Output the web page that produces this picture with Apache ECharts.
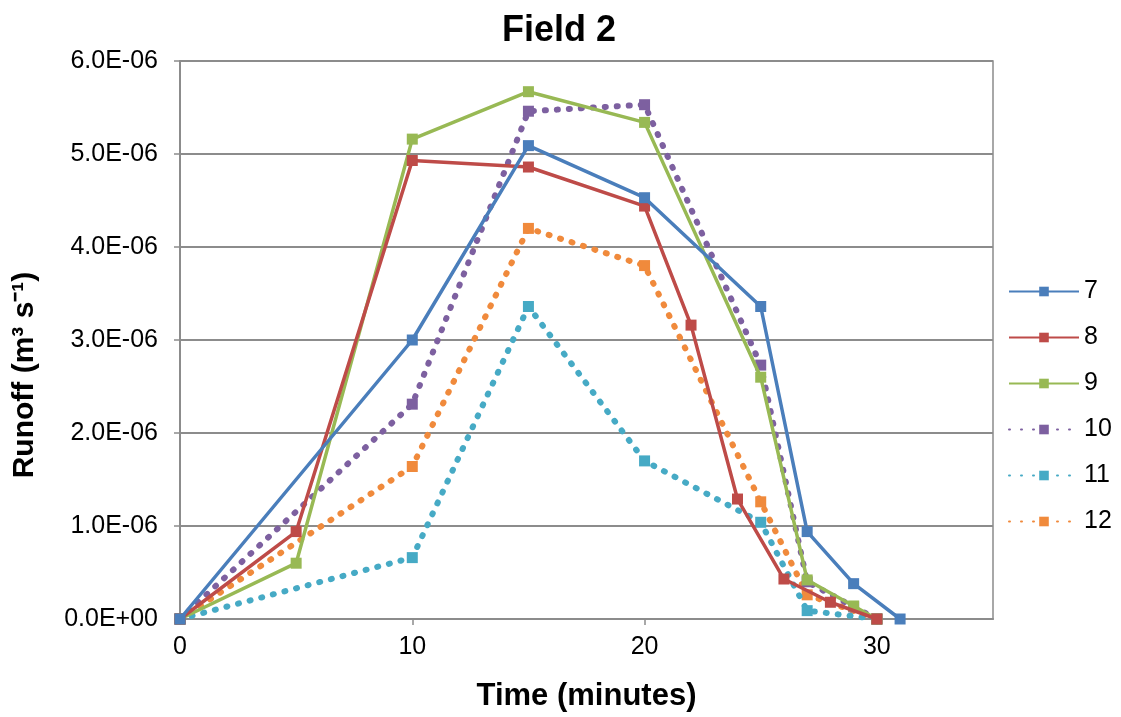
<!DOCTYPE html>
<html>
<head>
<meta charset="utf-8">
<script src="https://cdn.jsdelivr.net/npm/echarts@6/dist/echarts.min.js"></script>
<style>
html,body{margin:0;padding:0;background:#fff;}
#chart{width:1121px;height:717px;}
</style>
</head>
<body>
<div id="chart"></div>
<script>
// Data (time in minutes, runoff in 1E-06 m3/s)
var seriesNames = ['7', '8', '9', '10', '11', '12'];
var s7  = [[0,0],[10,3.00],[15,5.09],[20,4.53],[25,3.36],[27,0.94],[29,0.38],[31,0]];
var s8  = [[0,0],[5,0.94],[10,4.93],[15,4.86],[20,4.44],[22,3.16],[24,1.29],[26,0.43],[28,0.18],[30,0]];
var s9  = [[0,0],[5,0.60],[10,5.16],[15,5.67],[20,5.34],[25,2.60],[27,0.42],[29,0.14],[30,0]];
var s10 = [[0,0],[10,2.31],[15,5.46],[20,5.53],[25,2.73],[27,0.40],[29,0.13],[30,0]];
var s11 = [[0,0],[10,0.66],[15,3.36],[20,1.70],[25,1.04],[27,0.09],[30,0]];
var s12 = [[0,0],[10,1.64],[15,4.20],[20,3.80],[25,1.26],[27,0.26],[30,0]];
var allData = [s7, s8, s9, s10, s11, s12];
var colors = ['#4A7EBB', '#BE4B48', '#98B954', '#7D60A0', '#46AAC5', '#F08A3C'];
var dotted = [false, false, false, true, true, true];

function fmtE(v) {
  var s = Number(v).toExponential(1); // e.g. 6.0e-6
  var parts = s.split('e');
  var exp = parseInt(parts[1], 10);
  var sign = exp < 0 ? '-' : '+';
  var a = Math.abs(exp);
  return parts[0] + 'E' + sign + (a < 10 ? '0' + a : a);
}

var series = allData.map(function (d, i) {
  return {
    name: seriesNames[i],
    type: 'line',
    data: d.map(function (p) { return [p[0], p[1] * 1e-6]; }),
    symbol: 'rect',
    symbolSize: 11,
    showAllSymbol: true,
    itemStyle: { color: colors[i] },
    lineStyle: dotted[i]
      ? { color: colors[i], width: 6, type: [1, 11], cap: 'round' }
      : { color: colors[i], width: 3.5 },
    z: 10 - i
  };
});

var FONT = 'Liberation Sans, Arial, sans-serif';
var chart = echarts.init(document.getElementById('chart'));
chart.setOption({
  animation: false,
  backgroundColor: '#fff',
  textStyle: { fontFamily: FONT },
  title: {
    text: 'Field 2',
    left: 497,
    top: 8,
    textStyle: { fontSize: 36, fontWeight: 'bold', color: '#000', fontFamily: FONT }
  },
  legend: {
    orient: 'vertical',
    left: 1003,
    top: 274,
    itemWidth: 70,
    itemHeight: 12,
    itemGap: 21,
    data: seriesNames,
    textStyle: { fontSize: 25, color: '#000', fontFamily: FONT }
  },
  grid: {
    left: 180, right: 128, top: 61, bottom: 96,
    show: true, borderColor: '#8c8c8c', borderWidth: 1.5
  },
  xAxis: {
    type: 'value',
    min: 0, max: 35, interval: 10,
    name: 'Time (minutes)',
    nameLocation: 'middle',
    nameGap: 62,
    nameTextStyle: { fontSize: 31, fontWeight: 'bold', color: '#000' },
    axisLine: { show: true, lineStyle: { color: '#8c8c8c', width: 2 } },
    axisTick: { show: true, length: 6, lineStyle: { color: '#8c8c8c', width: 1.5 } },
    axisLabel: { fontSize: 25, color: '#000', margin: 16, showMaxLabel: false },
    splitLine: { show: false }
  },
  yAxis: {
    type: 'value',
    min: 0, max: 6e-6, interval: 1e-6,
    name: 'Runoff (m³ s⁻¹)',
    nameLocation: 'middle',
    nameGap: 140,
    nameRotate: 90,
    nameTextStyle: { fontSize: 30, fontWeight: 'bold', color: '#000', padding: [0, 70, 0, 0] },
    axisLine: { show: true, lineStyle: { color: '#8c8c8c', width: 2 } },
    axisTick: { show: true, length: 6, lineStyle: { color: '#8c8c8c', width: 1.5 } },
    axisLabel: { fontSize: 25, color: '#000', margin: 22, formatter: fmtE },
    splitLine: { show: true, lineStyle: { color: '#8c8c8c', width: 2 } }
  },
  series: series
});
</script>
</body>
</html>
